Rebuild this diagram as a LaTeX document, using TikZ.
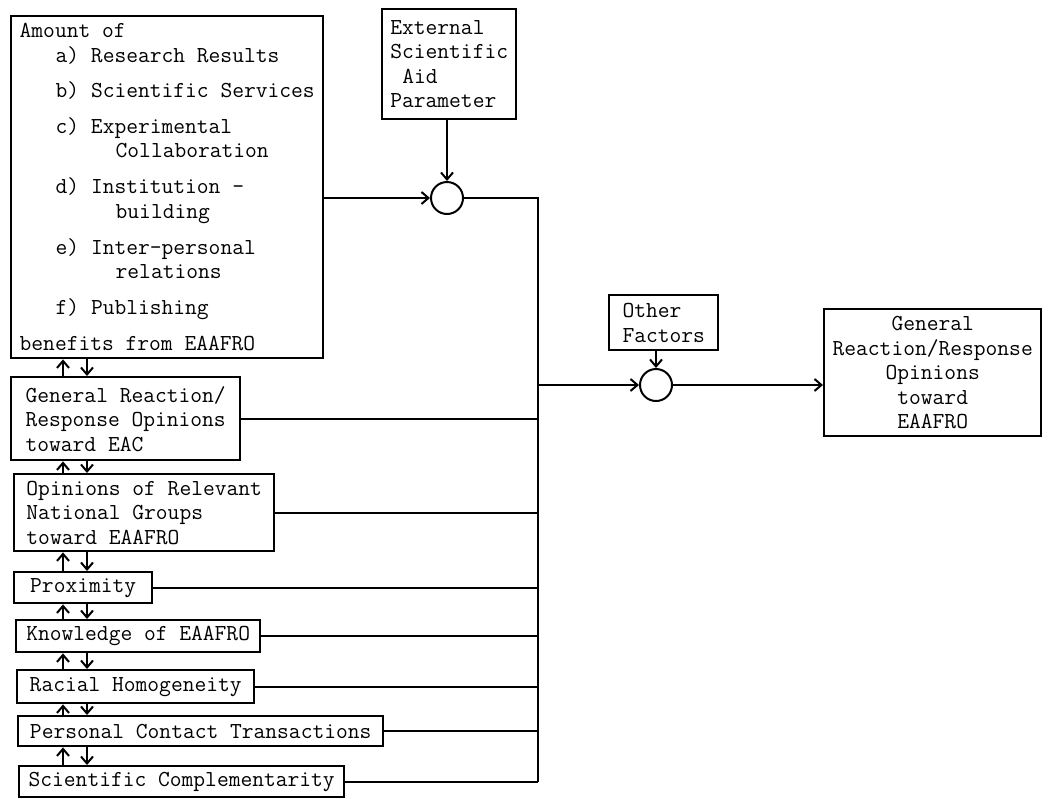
\documentclass[tikz,border=0pt]{standalone}
\usepackage{fontspec}
\usetikzlibrary{arrows.meta}
\begin{document}
\begin{tikzpicture}[x=1pt,y=-1pt,
  box/.style={draw, line width=2.4pt, font=\ttfamily\fontsize{22.86pt}{24.5pt}\selectfont,
    align=left, inner sep=0pt, anchor=north west},
  sum/.style={draw, circle, line width=2pt, minimum size=32pt, inner sep=0pt},
  link/.style={line width=2pt},
  >={Straight Barb[length=7pt,width=12pt]}]
  \useasboundingbox (0,0) rectangle (1048,798);
  % benefits and the factors under it
  \node[box, minimum width=312pt, minimum height=342pt] (amount) at (10,15) {Amount of\\
    \hspace*{36pt}a) Research Results\\[10.5pt]
    \hspace*{36pt}b) Scientific Services\\[11.5pt]
    \hspace*{36pt}c) Experimental\\
    \hspace*{96pt}Collaboration\\[11.5pt]
    \hspace*{36pt}d) Institution -\\
    \hspace*{96pt}building\\[11.5pt]
    \hspace*{36pt}e) Inter-personal\\
    \hspace*{96pt}relations\\[11.5pt]
    \hspace*{36pt}f) Publishing\\[11.5pt]
    benefits from EAAFRO};
  \node[box, minimum width=229pt, minimum height=83pt] (gen) at (10,376)
    {General Reaction/\\Response Opinions\\toward EAC};
  \node[box, minimum width=260pt, minimum height=77pt] (opin) at (13,473)
    {Opinions of Relevant\\National Groups\\toward EAAFRO};
  \node[box, minimum width=138pt, minimum height=31pt] (prox) at (13,571) {Proximity};
  \node[box, minimum width=244pt, minimum height=32pt] (know) at (15,619) {Knowledge of EAAFRO};
  \node[box, minimum width=237pt, minimum height=33pt] (racial) at (16,669) {Racial Homogeneity};
  \node[box, minimum width=365pt, minimum height=30pt] (personal) at (17,715) {Personal Contact Transactions};
  \node[box, minimum width=325pt, minimum height=31pt] (scicomp) at (18,765) {Scientific Complementarity};
  % parameters and result
  \node[box, minimum width=134pt, minimum height=110pt] (ext) at (381,8)
    {External\\Scientific\\\hspace*{12pt}Aid\\Parameter};
  \node[box, minimum width=109pt, minimum height=55pt] (other) at (608,294) {Other\\Factors};
  \node[box, minimum width=217pt, minimum height=127pt, align=center] (result) at (823,308)
    {General\\Reaction/Response\\Opinions\\toward\\EAAFRO};
  \node[sum] (sum1) at (447,198) {};
  \node[sum] (sum2) at (656,385) {};
  \coordinate (bus) at (538,0);
  \coordinate (up) at (63,0);
  \coordinate (dn) at (87,0);

  \draw[link,->] (amount.east |- sum1) -- (sum1);
  \draw[link,->] (ext.south -| sum1) -- (sum1.north);
  \draw[link] (sum1) -- (bus |- sum1) -- (bus |- scicomp.east);
  \foreach \b in {gen,opin,prox,know,racial,personal,scicomp}
    \draw[link] (\b.east) -- (bus |- \b.east);
  \draw[link,->] (bus |- sum2) -- (sum2);
  \draw[link,->] (other.south -| sum2) -- (sum2.north);
  \draw[link,->] (sum2) -- (sum2 -| result.west);
  \foreach \u/\l in {amount/gen,gen/opin,opin/prox,prox/know,know/racial,racial/personal,personal/scicomp} {
    \draw[link,->] (up |- \l.north) -- (up |- \u.south);
    \draw[link,->] (dn |- \u.south) -- (dn |- \l.north);
  }
\end{tikzpicture}
\end{document}
